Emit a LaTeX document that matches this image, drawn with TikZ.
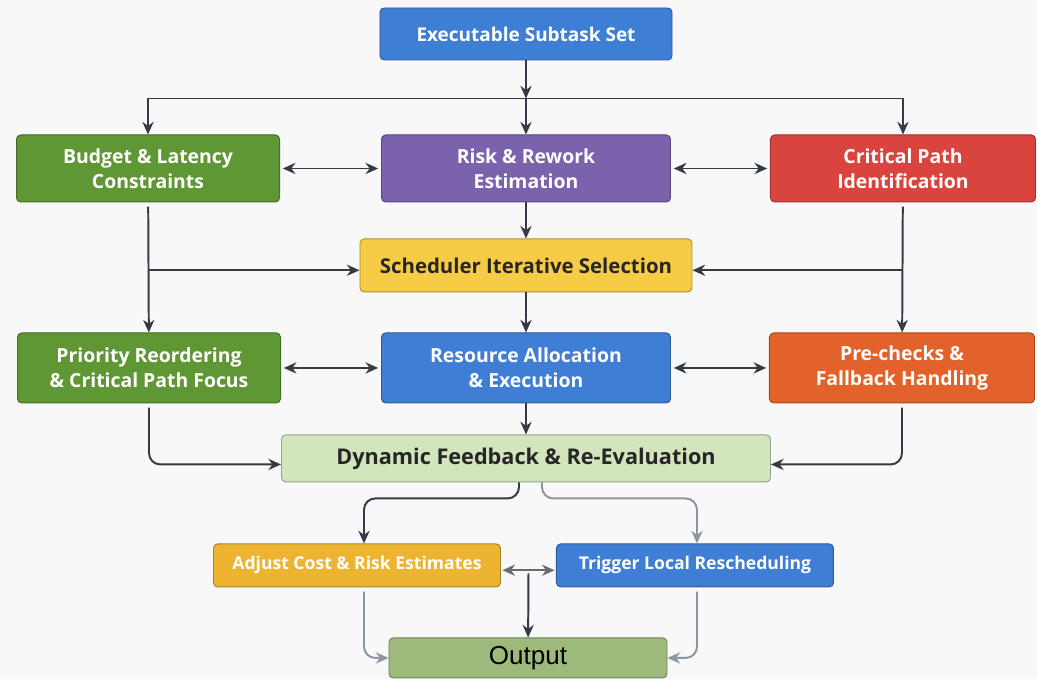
\documentclass[tikz,border=0pt]{standalone}
\usepackage{fontspec}
\setmainfont{Open Sans}
\newfontfamily\outfont{Liberation Sans}
\usetikzlibrary{positioning, arrows.meta, calc}

\definecolor{cblue}{HTML}{3E7ED5}
\definecolor{cgreen}{HTML}{5E9734}
\definecolor{cpurple}{HTML}{7B62AC}
\definecolor{cred}{HTML}{D9443F}
\definecolor{cyellow}{HTML}{F6CB45}
\definecolor{corange}{HTML}{E3622B}
\definecolor{clight}{HTML}{D2E5BC}
\definecolor{camber}{HTML}{EDB432}
\definecolor{coutput}{HTML}{9DB97C}
\definecolor{cline}{HTML}{353A45}
\definecolor{cgray}{HTML}{8E95A0}
\definecolor{cbg}{HTML}{F8F8F9}

\tikzset{
  box/.style={rectangle, rounded corners=3pt, draw=#1!72!black, fill=#1,
    text=white, align=center, line width=0.7pt,
    font=\bfseries\fontsize{13.8}{17.5}\selectfont},
  darkbox/.style={box=#1, text=black!85},
  arr/.style={draw=cline, line width=1.4pt, -{Stealth[length=9pt,width=8pt]}},
  dbl/.style={arr, {Stealth[length=9pt,width=8pt]}-{Stealth[length=9pt,width=8pt]},
    shorten <=2pt, shorten >=2pt},
  garr/.style={arr, draw=cgray, -{Stealth[length=9pt,width=8pt]}},
}

\begin{document}
\begin{tikzpicture}
  \fill[cbg] (-13.15,0.85) rectangle (12.775,-16.125);
  \useasboundingbox (-13.15,0.85) rectangle (12.775,-16.125);

  % top
  \node[box=cblue, minimum width=7.3cm, minimum height=1.3cm,
    font=\bfseries\fontsize{13.5}{16}\selectfont] (top) at (0,0) {Executable Subtask Set};
  \coordinate[below=0.95cm of top] (split);

  % first row
  \node[box=cpurple, minimum width=7.225cm, minimum height=1.675cm, below=1.85cm of top] (risk) {Risk \& Rework\\Estimation};
  \node[box=cgreen, minimum width=6.575cm, minimum height=1.675cm, left=2.525cm of risk] (budget) {Budget \& Latency\\Constraints};
  \node[box=cred, minimum width=6.625cm, minimum height=1.675cm, right=2.475cm of risk] (critical) {Critical Path\\Identification};

  \node[darkbox=cyellow, minimum width=8.3cm, minimum height=1.325cm, below=0.9cm of risk,
    font=\bfseries\fontsize{14.5}{17}\selectfont] (scheduler) {Scheduler Iterative Selection};

  % second row
  \node[box=cblue, minimum width=7.225cm, minimum height=1.75cm, below=1.0cm of scheduler] (resource) {Resource Allocation\\\& Execution};
  \node[box=cgreen, minimum width=6.575cm, minimum height=1.75cm, left=2.5cm of resource] (priority) {Priority Reordering\\\& Critical Path Focus};
  \node[box=corange, minimum width=6.625cm, minimum height=1.75cm, right=2.45cm of resource] (prechecks) {Pre-checks \&\\Fallback Handling};

  \node[darkbox=clight, minimum width=12.225cm, minimum height=1.175cm, below=0.775cm of resource,
    font=\bfseries\fontsize{15.4}{18}\selectfont] (dynamic) {Dynamic Feedback \& Re-Evaluation};

  % bottom
  \node[box=camber, minimum width=7.175cm, minimum height=1.075cm, below=1.525cm of dynamic.south, xshift=-4.225cm,
    font=\bfseries\fontsize{12.5}{14}\selectfont] (adjust) {Adjust Cost \& Risk Estimates};
  \node[box=cblue, minimum width=6.925cm, minimum height=1.075cm, right=1.375cm of adjust,
    font=\bfseries\fontsize{12.5}{14}\selectfont] (trigger) {Trigger Local Rescheduling};
  \coordinate (mid) at ($(adjust.east)!0.5!(trigger.west)$);
  \node[box=coutput, text=black, minimum width=6.95cm, minimum height=1.0cm, below=3.875cm of dynamic, xshift=0.05cm,
    font=\outfont\fontsize{18.5}{20}\selectfont] (output) {Output};

  \draw[arr] (top) -- (split);
  \draw[cline, line width=1.4pt] (split -| budget) -- (split -| critical);
  \draw[arr] (split -| budget) -- (budget);
  \draw[arr] (split) -- (risk);
  \draw[arr] (split -| critical) -- (critical);

  \draw[dbl] (budget) -- (risk);
  \draw[dbl] (risk) -- (critical);
  \draw[arr] (risk) -- (scheduler);

  \draw[arr, shorten <=3pt] (budget) -- (priority);
  \draw[arr] ([yshift=-0.12cm]budget |- scheduler) -- ([yshift=-0.12cm]scheduler.west);
  \draw[arr, shorten <=3pt] (critical) -- (prechecks);
  \draw[arr] ([yshift=-0.12cm]critical |- scheduler) -- ([yshift=-0.12cm]scheduler.east);

  \draw[arr] (scheduler) -- (resource);
  \draw[dbl] (priority) -- (resource);
  \draw[dbl] (resource) -- (prechecks);
  \draw[arr] (resource) -- (dynamic);

  \draw[arr, rounded corners=8pt, shorten <=3pt] (priority) |- ([yshift=-0.15cm]dynamic.west);
  \draw[arr, rounded corners=8pt, shorten <=3pt] (prechecks) |- ([yshift=-0.15cm]dynamic.east);

  \draw[arr, rounded corners=8pt] ([xshift=-0.175cm]dynamic.south) -- ++(0,-0.4) -| ([xshift=0.175cm]adjust.north);
  \draw[garr, rounded corners=8pt] ([xshift=0.4cm]dynamic.south) -- ++(0,-0.4) -| ([xshift=0.05cm]trigger.north);

  \draw[dbl, draw=cline!75, line width=1.1pt, shorten <=1pt, shorten >=1pt] ([yshift=-0.12cm]adjust.east) -- ([yshift=-0.12cm]trigger.west);
  \draw[arr] ([yshift=-0.2cm]mid) -- (output);

  \draw[garr, rounded corners=8pt, shorten <=3pt] ([xshift=0.175cm]adjust.south) |- (output.west);
  \draw[garr, rounded corners=8pt, shorten <=3pt] ([xshift=0.05cm]trigger.south) |- (output.east);
\end{tikzpicture}
\end{document}
